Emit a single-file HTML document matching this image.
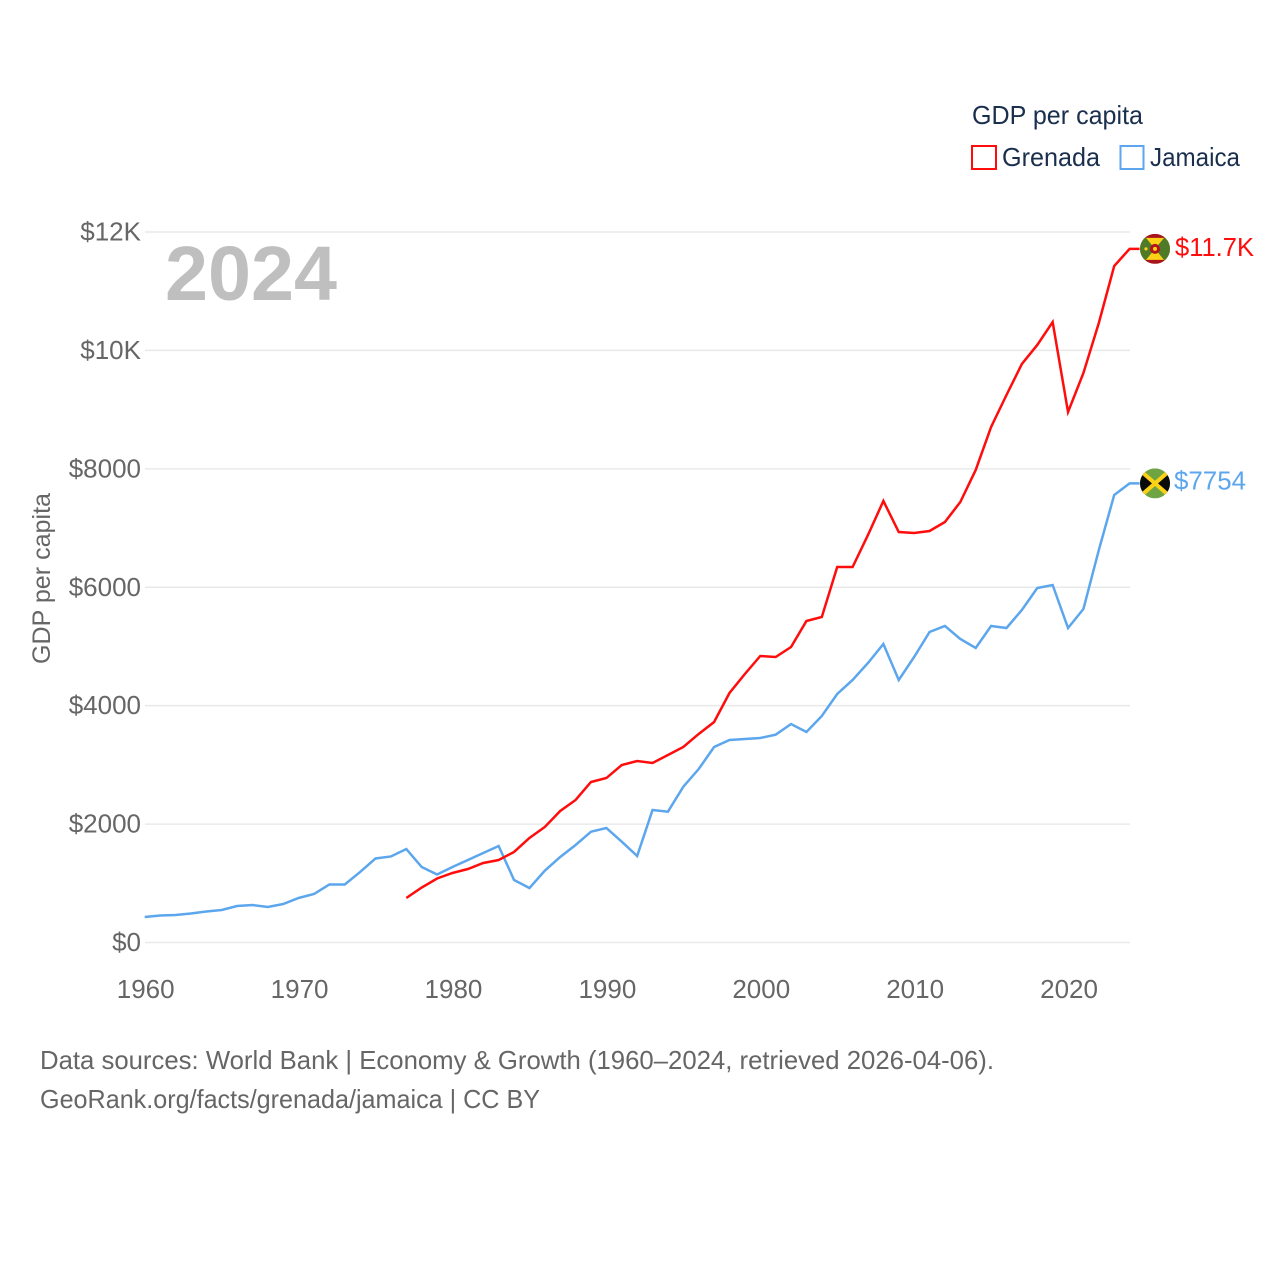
<!DOCTYPE html>
<html lang="en">
<head>
<meta charset="utf-8">
<title>GDP per capita: Grenada and Jamaica</title>
<style>
html,body{margin:0;padding:0;background:#fff;width:1280px;height:1280px;overflow:hidden}
svg{display:block}
text{font-family:"Liberation Sans",sans-serif}
</style>
</head>
<body>
<svg id="chart" xmlns="http://www.w3.org/2000/svg" width="1280" height="1280" viewBox="0 0 1280 1280">
  <defs>
    <clipPath id="clip-g"><circle cx="0" cy="0" r="15"/></clipPath>
    <clipPath id="clip-j"><circle cx="0" cy="0" r="15"/></clipPath>
  </defs>
  <rect width="1280" height="1280" fill="#fff"/>
  <g id="grid"></g>
  <g id="yticks"></g>
  <g id="xticks"></g>
  <text x="165" y="300" font-size="77" font-weight="bold" fill="#bfbfbf" textLength="172" lengthAdjust="spacingAndGlyphs">2024</text>
  <text transform="translate(50,664) rotate(-90)" font-size="25" fill="#666" textLength="171" lengthAdjust="spacingAndGlyphs">GDP per capita</text>
  <path id="line-jamaica" fill="none" stroke="#5ca6ee" stroke-width="2.5" stroke-linejoin="miter"/>
  <path id="line-grenada" fill="none" stroke="#ff0d0d" stroke-width="2.5" stroke-linejoin="miter"/>

  <g id="flag-grenada">
    <g clip-path="url(#clip-g)">
      <rect x="-15" y="-15" width="30" height="30" fill="#a8141c"/>
      <rect x="-15" y="-11" width="30" height="22" fill="#fcd116"/>
      <polygon points="-15,-11 -9,-11 0,0 -9,11 -15,11" fill="#4f7a28"/>
      <polygon points="15,-11 9,-11 0,0 9,11 15,11" fill="#4f7a28"/>
      <circle cx="0" cy="0" r="5" fill="#b5121b"/>
      <circle cx="0" cy="0" r="2" fill="#fcd116"/>
      <circle cx="-9" cy="0" r="1.6" fill="#fcd116"/>
    </g>
  </g>
  <g id="flag-jamaica">
    <g clip-path="url(#clip-j)">
      <rect x="-15" y="-15" width="30" height="30" fill="#6fa443"/>
      <polygon points="-15,-15 0,0 -15,15" fill="#0a0a0a"/>
      <polygon points="15,-15 0,0 15,15" fill="#0a0a0a"/>
      <line x1="-15" y1="-13" x2="15" y2="13" stroke="#fcd116" stroke-width="4"/>
      <line x1="-15" y1="13" x2="15" y2="-13" stroke="#fcd116" stroke-width="4"/>
    </g>
  </g>
  <text id="label-grenada" x="1175" font-size="26" fill="#ff0d0d" textLength="79" lengthAdjust="spacingAndGlyphs"></text>
  <text id="label-jamaica" x="1174" font-size="26" fill="#5ca6ee" textLength="72" lengthAdjust="spacingAndGlyphs"></text>

  <g>
    <text x="972" y="124" font-size="26" fill="#1a2f4e" textLength="171" lengthAdjust="spacingAndGlyphs">GDP per capita</text>
    <g>
      <rect x="972" y="146" width="24" height="23" fill="#fff" stroke="#ff0d0d" stroke-width="2"/>
      <text x="1002" y="166" font-size="26" fill="#1a2f4e" textLength="98" lengthAdjust="spacingAndGlyphs">Grenada</text>
    </g>
    <g>
      <rect x="1120.5" y="146" width="23" height="23" fill="#fff" stroke="#5ca6ee" stroke-width="2"/>
      <text x="1150" y="166" font-size="26" fill="#1a2f4e" textLength="90" lengthAdjust="spacingAndGlyphs">Jamaica</text>
    </g>
  </g>

  <text x="40" y="1069" font-size="26" fill="#666" textLength="954" lengthAdjust="spacingAndGlyphs">Data sources: World Bank | Economy &amp; Growth (1960–2024, retrieved 2026-04-06).</text>
  <text x="40" y="1108" font-size="26" fill="#666" textLength="500" lengthAdjust="spacingAndGlyphs">GeoRank.org/facts/grenada/jamaica | CC BY</text>
</svg>
<script>
const startYear = 1960;
const endYear = 2024;
const grenadaStart = 1977;
const yTickValues = [0, 2000, 4000, 6000, 8000, 10000, 12000];
const yTickLabels = ["$0", "$2000", "$4000", "$6000", "$8000", "$10K", "$12K"];
const xTickYears = [1960, 1970, 1980, 1990, 2000, 2010, 2020];
const jamaicaValues = [431,456,464,490,524,549,616,633,600,650,752,819,980,980,1191,1419,1453,1579,1275,1149,1275,1393,1512,1630,1056,920,1213,1444,1647,1871,1934,1702,1461,2238,2209,2631,2930,3302,3420,3437,3454,3510,3690,3555,3826,4197,4434,4721,5042,4434,4822,5244,5346,5126,4974,5346,5312,5616,5987,6038,5312,5633,6629,7558,7754];
const grenadaValues = [752,929,1081,1174,1241,1343,1393,1529,1765,1951,2221,2407,2711,2778,2998,3065,3032,3167,3302,3522,3724,4214,4535,4839,4822,4991,5430,5498,6342,6342,6883,7457,6933,6916,6950,7102,7440,7981,8707,9247,9771,10092,10480,8960,9619,10463,11426,11715];
const endLabels = ["$11.7K", "$7754"];

const NS = "http://www.w3.org/2000/svg";
function xScale(year) { return 144.7 + (year - startYear) * (1129.6 - 144.7) / (endYear - startYear); }
function yScale(value) { return 942.5 - value * (942.5 - 232) / 12000; }
function makeText(parent, x, y, anchor, content) {
  const t = document.createElementNS(NS, "text");
  t.setAttribute("x", x);
  t.setAttribute("y", y);
  t.setAttribute("text-anchor", anchor);
  t.setAttribute("font-size", "26");
  t.setAttribute("fill", "#666");
  t.textContent = content;
  parent.appendChild(t);
  return t;
}
const gridGroup = document.getElementById("grid");
const yTickGroup = document.getElementById("yticks");
const xTickGroup = document.getElementById("xticks");
yTickValues.forEach(function (v, i) {
  const l = document.createElementNS(NS, "line");
  
  
  l.setAttribute("x1", 145);
  l.setAttribute("x2", 1130);
  l.setAttribute("y1", yScale(v));
  l.setAttribute("y2", yScale(v));
  l.setAttribute("stroke", "#e9e9e9");
  l.setAttribute("stroke-width", "1.5");
  gridGroup.appendChild(l);
  const t = makeText(yTickGroup, 141, yScale(v) + 8.5, "end", yTickLabels[i]);
  
  
});
xTickYears.forEach(function (year) {
  const t = makeText(xTickGroup, xScale(year) + 1, 998, "middle", String(year));
  
  
});
function buildPath(values, firstYear) {
  let d = "";
  values.forEach(function (v, i) {
    d += (i ? "L" : "M") + xScale(firstYear + i).toFixed(2) + " " + yScale(v).toFixed(2);
  });
  const last = values[values.length - 1];
  return d + "L" + (xScale(endYear) + 10).toFixed(2) + " " + yScale(last).toFixed(2);
}
document.getElementById("line-jamaica").setAttribute("d", buildPath(jamaicaValues, startYear));
document.getElementById("line-grenada").setAttribute("d", buildPath(grenadaValues, grenadaStart));
const gLast = yScale(grenadaValues[grenadaValues.length - 1]);
const jLast = yScale(jamaicaValues[jamaicaValues.length - 1]);
document.getElementById("flag-grenada").setAttribute("transform", "translate(1155," + gLast + ")");
document.getElementById("flag-jamaica").setAttribute("transform", "translate(1155," + jLast + ")");
const gLabel = document.getElementById("label-grenada");
gLabel.setAttribute("y", gLast + 7);
gLabel.textContent = endLabels[0];
const jLabel = document.getElementById("label-jamaica");
jLabel.setAttribute("y", jLast + 6);
jLabel.textContent = endLabels[1];
</script>
</body>
</html>
